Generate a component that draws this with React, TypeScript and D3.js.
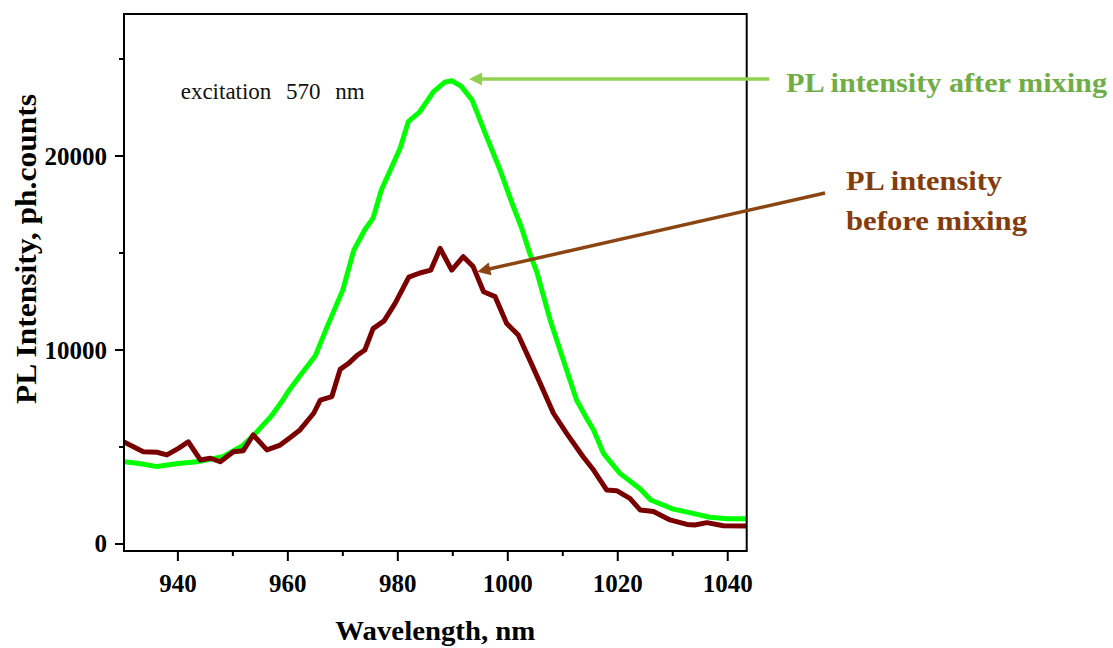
import React from "react";
import * as d3 from "d3";

// ---- data ----
const afterWavelength = [930.2, 933, 936.2, 940, 943.5, 948.2, 951.9, 954.4, 957, 959.1, 960, 962, 965, 967, 970, 972, 974, 975.5, 977, 980.4, 981.9, 984, 986.5, 988.5, 989.8, 991.5, 993.5, 995.9, 998.6, 1001, 1002.5, 1004, 1005.3, 1007.7, 1010.7, 1012.5, 1014.4, 1015.6, 1017.4, 1020.4, 1024.1, 1026, 1030.1, 1033.7, 1036.7, 1040, 1043.4];
const afterIntensity = [4240, 4150, 3990, 4150, 4240, 4500, 5100, 5790, 6600, 7420, 7830, 8600, 9700, 11100, 13100, 15150, 16200, 16800, 18250, 20390, 21770, 22280, 23320, 23800, 23880, 23600, 22890, 21170, 19280, 17390, 16300, 14980, 14000, 11550, 8970, 7420, 6450, 5880, 4670, 3640, 2830, 2270, 1800, 1580, 1380, 1300, 1300];

const beforeWavelength = [930.1, 932, 933.7, 936.2, 938, 940.1, 941.9, 944.1, 945.9, 947.7, 950.1, 951.9, 953.7, 956.2, 958.6, 960.5, 962.2, 964.7, 965.9, 968, 969.5, 971, 972.5, 974, 975.5, 977.5, 979.5, 982, 984, 986, 987.7, 989.8, 991.9, 993.7, 995.6, 997.7, 999.8, 1001.9, 1004, 1005.9, 1008.3, 1010.7, 1013.7, 1015.6, 1018, 1019.8, 1022.2, 1024.1, 1026.5, 1029.5, 1032.6, 1034, 1036.2, 1039.2, 1043.4];
const beforeIntensity = [5270, 5000, 4760, 4730, 4590, 4930, 5270, 4330, 4420, 4240, 4760, 4810, 5620, 4850, 5100, 5500, 5880, 6740, 7420, 7600, 9000, 9300, 9700, 10000, 11100, 11500, 12400, 13760, 13970, 14120, 15240, 14120, 14810, 14300, 13000, 12750, 11370, 10770, 9480, 8280, 6740, 5700, 4500, 3810, 2780, 2750, 2350, 1750, 1670, 1240, 1010, 980, 1100, 940, 930];

const xMajorTicks = [940, 960, 980, 1000, 1020, 1040];
const xMinorTicks = [950, 970, 990, 1010, 1030];
const yMajorTicks = [0, 10000, 20000];
const yMinorTicks = [5000, 15000, 25000];

const xTitle = "Wavelength, nm";
const yTitle = "PL Intensity, ph.counts";
const excitationLabel = "excitation 570 nm";
const afterLabel = "PL intensity after mixing";
const beforeLabel = ["PL intensity", "before mixing"];
const afterArrowTip = [992.96, 23970];
const beforeArrowTip = [994.47, 14036];

const W = 1113;
const H = 648;
const L = 124, R = 746.7, T = 14, B = 551;

export default function App() {
  const x = d3.scaleLinear().domain([930.2, 1043.45]).range([L, R]);
  const y = d3.scaleLinear().domain([-361, 27320]).range([B, T]);

  const lineGen = d3
    .line<[number, number]>()
    .x((d) => x(d[0]))
    .y((d) => y(d[1]));

  const afterPts = afterWavelength.map((w, i) => [w, afterIntensity[i]] as [number, number]);
  const beforePts = beforeWavelength.map((w, i) => [w, beforeIntensity[i]] as [number, number]);

  const axisFont = "'Liberation Serif', 'Times New Roman', serif";
  const major = 9, minor = 5;

  const arrow = (x1: number, y1: number, tx: number, ty: number, color: string, w: number) => {
    const dx = tx - x1, dy = ty - y1;
    const len = Math.hypot(dx, dy);
    const ux = dx / len, uy = dy / len;
    const hl = 13, hw = 6.5;
    const bx = tx - ux * hl, by = ty - uy * hl;
    const px = -uy, py = ux;
    const pts = `${tx},${ty} ${bx + px * hw},${by + py * hw} ${bx - px * hw},${by - py * hw}`;
    return (
      <g>
        <line x1={x1} y1={y1} x2={bx + ux * 1} y2={by + uy * 1} stroke={color} strokeWidth={w} />
        <polygon points={pts} fill={color} />
      </g>
    );
  };

  const gTip = [x(afterArrowTip[0]), y(afterArrowTip[1])];
  const bTip = [x(beforeArrowTip[0]), y(beforeArrowTip[1])];

  return (
    <svg
      width={W}
      height={H}
      style={{ position: "absolute", left: 0, top: 0, background: "#fff" }}
    >
      <defs>
        <clipPath id="plotclip">
          <rect x={L} y={T} width={R - L} height={B - T} />
        </clipPath>
      </defs>
      <rect x={0} y={0} width={W} height={H} fill="#fff" />

      {/* curves */}
      <g clipPath="url(#plotclip)">
        <path d={lineGen(afterPts) || ""} fill="none" stroke="#00FF00" strokeWidth={5} strokeLinejoin="round" />
        <path d={lineGen(beforePts) || ""} fill="none" stroke="#7A0000" strokeWidth={5} strokeLinejoin="round" />
      </g>

      {/* frame */}
      <rect x={L} y={T} width={R - L} height={B - T} fill="none" stroke="#000" strokeWidth={2} />

      {/* x ticks */}
      {xMajorTicks.map((t) => (
        <g key={"xM" + t}>
          <line x1={x(t)} x2={x(t)} y1={B} y2={B + major + 1} stroke="#000" strokeWidth={2} />
          <text x={x(t)} y={591.5} textAnchor="middle" fontFamily={axisFont} fontWeight="bold" fontSize={25}>
            {t}
          </text>
        </g>
      ))}
      {xMinorTicks.map((t) => (
        <line key={"xm" + t} x1={x(t)} x2={x(t)} y1={B} y2={B + minor} stroke="#000" strokeWidth={2} />
      ))}

      {/* y ticks */}
      {yMajorTicks.map((t) => (
        <g key={"yM" + t}>
          <line x1={L - major} x2={L} y1={y(t)} y2={y(t)} stroke="#000" strokeWidth={2} />
          <text x={107} y={y(t) + 8.5} textAnchor="end" fontFamily={axisFont} fontWeight="bold" fontSize={25}>
            {t}
          </text>
        </g>
      ))}
      {yMinorTicks.map((t) => (
        <line key={"ym" + t} x1={L - minor} x2={L} y1={y(t)} y2={y(t)} stroke="#000" strokeWidth={2} />
      ))}

      {/* axis titles */}
      <text x={(L + R) / 2} y={640} textAnchor="middle" fontFamily={axisFont} fontWeight="bold" fontSize={28} textLength={200} lengthAdjust="spacingAndGlyphs">
        {xTitle}
      </text>
      <text
        transform={`translate(36, 249) rotate(-90)`}
        textAnchor="middle"
        fontFamily={axisFont}
        fontWeight="bold"
        fontSize={29}
        textLength={310}
        lengthAdjust="spacingAndGlyphs"
      >
        {yTitle}
      </text>

      {/* excitation label */}
      <text x={180.7} y={99} fontFamily={axisFont} fontSize={23} fill="#111" wordSpacing={9}>
        {excitationLabel}
      </text>

      {/* arrows */}
      {arrow(769, gTip[1], gTip[0], gTip[1], "#92D050", 3.5)}
      {arrow(825, 193, bTip[0], bTip[1], "#8B4513", 3.5)}

      {/* annotations */}
      <text x={786} y={92} fontFamily={axisFont} fontWeight="bold" fontSize={27} fill="#70AD47" textLength={321} lengthAdjust="spacingAndGlyphs">
        {afterLabel}
      </text>
      <text x={846} y={190} fontFamily={axisFont} fontWeight="bold" fontSize={27} fill="#843C0C" textLength={156} lengthAdjust="spacingAndGlyphs">
        {beforeLabel[0]}
      </text>
      <text x={846} y={230} fontFamily={axisFont} fontWeight="bold" fontSize={27} fill="#843C0C" textLength={181} lengthAdjust="spacingAndGlyphs">
        {beforeLabel[1]}
      </text>
    </svg>
  );
}
